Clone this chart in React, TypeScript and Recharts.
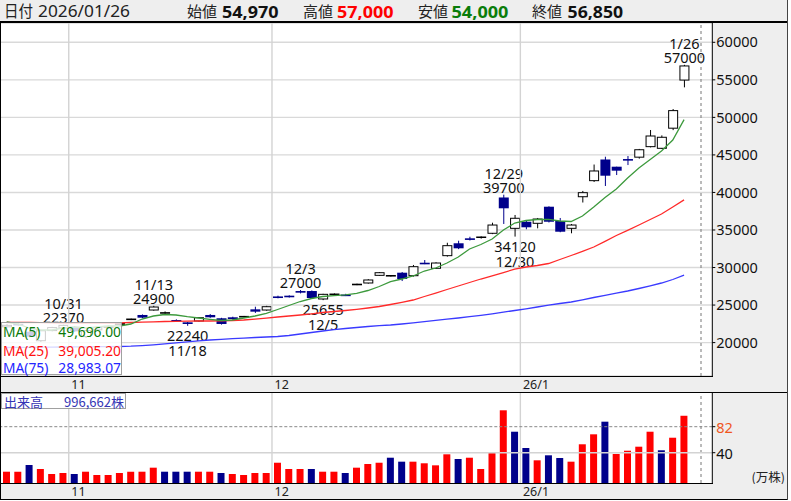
import React from 'react';
import { ComposedChart, Bar, Line, XAxis, YAxis, CartesianGrid, ReferenceLine, Cell } from 'recharts';

const dates = ['10/24','10/27','10/28','10/29','10/30','10/31','11/4','11/5','11/6','11/7','11/10','11/11','11/12','11/13','11/14','11/17','11/18','11/19','11/20','11/21','11/25','11/26','11/27','11/28','12/1','12/2','12/3','12/4','12/5','12/8','12/9','12/10','12/11','12/12','12/15','12/16','12/17','12/18','12/19','12/22','12/23','12/24','12/25','12/26','12/29','12/30','1/5','1/6','1/7','1/8','1/9','1/13','1/14','1/15','1/16','1/19','1/20','1/21','1/22','1/23','1/26'];

const opens = [22100,22500,21450,20250,21600,21950,22100,20800,21700,22000,
  22400,23100,23680,24340,23950,23010,22700,22880,23680,23240,
  23370,23450,24430,24340,26150,26250,26870,26870,25810,26430,
  26400,27740,27940,28960,28900,29310,28910,30640,29900,31580,
  33230,33890,34030,34560,39330,35220,36100,35890,38100,36200,
  35220,39430,41570,44390,43430,44450,44700,46100,45880,48560,54970];
const highs = [22450,22600,21500,21700,22100,22370,22200,21700,22100,22250,
  22650,23200,23750,24900,24150,23100,22750,23400,23800,23300,
  23450,23550,24780,24900,26250,26300,27000,26950,26500,26550,
  26500,27850,28450,29400,29000,29400,30340,31000,30700,33300,
  33570,34100,34150,35970,39700,37000,36200,36600,38150,36600,
  35800,40200,43720,44760,43430,44850,45800,48320,47600,51110,57000];
const lows = [22000,22250,20700,20100,21500,21800,21400,20600,21600,21900,
  22300,23000,23250,24250,23800,22800,22240,22800,23300,22400,
  23050,23350,23950,24250,25900,26000,26550,25900,25655,26330,
  26200,27650,27850,28900,28800,28200,28800,30450,29800,31450,
  32450,33600,33850,34450,35800,34120,35100,35220,36000,34700,
  34560,38660,41400,40860,42320,43650,44500,46000,45800,48300,54000];
const closes = [22300,22400,20790,21580,22000,22300,21500,21600,22000,22150,
  22550,23100,23320,24740,23950,22880,22480,23320,23370,22480,
  23140,23450,24120,24780,26000,26100,26650,25940,26430,26430,
  26320,27740,28340,29310,28900,28470,30110,30560,30600,32910,
  32560,33760,34030,35660,37890,36560,35360,36460,36100,34770,
  35660,39970,42860,42230,42900,44300,45690,47520,47350,50900,56850];

const ma5 = [22744,22477,21944,21678,21678,21944,22078,21944,22078,22211,
  22211,22477,23143,23543,23743,23676,23450,23276,23103,22943,
  23010,23276,23543,23902,24409,24942,25474,25874,26140,26247,
  26367,26566,26939,27472,28111,28471,28871,29537,29936,30602,
  31402,32467,33067,33800,34998,35930,36263,36397,36423,36197,
  36130,36863,38062,39327,40459,41924,43256,44388,45520,46985,49696];
const ma25 = [22677,22677,22677,22650,22637,22610,22610,22610,22610,22610,
  22637,22677,22717,22770,22810,22837,22850,22877,22877,22903,
  22943,23010,23117,23250,23410,23543,23676,23836,24009,24142,
  24275,24435,24608,24808,25075,25368,25674,26140,26606,27073,
  27539,28005,28471,28897,29337,29777,30070,30269,30536,31069,
  31601,32161,32734,33493,34266,34958,35664,36397,37129,38062,39005.2];
const ma75 = [19347,19360,19374,19387,19400,19414,19427,19440,19454,19467,
  19480,19520,19600,19707,19840,19973,20106,20239,20346,20439,
  20519,20599,20679,20746,20812,20945,21145,21345,21545,21718,
  21878,22011,22144,22251,22344,22477,22637,22797,22957,23117,
  23276,23450,23636,23836,24049,24276,24502,24742,24981,25208,
  25408,25701,26007,26300,26580,26873,27206,27565,27938,28405,28983.07];

// volume in 万株
const volumes = [9.3,9.3,20.1,13.7,5.6,7.2,5.6,9.3,4.0,4.0,
  7.2,9.3,9.3,15.8,9.3,9.3,9.3,9.3,9.3,7.2,
  5.6,4.0,7.2,7.2,23.8,13.7,13.7,13.7,9.3,9.3,
  7.2,15.8,21.7,23.8,31.9,25.5,25.5,22.9,19.6,37.4,
  29.8,31.9,13.7,39.5,108.5,73.9,47.6,27.7,35.8,31.4,
  25.5,53.6,69.7,90.1,37.9,43.2,49.7,73.9,43.9,64.2,99.67];
const volumeUp = [1,1,0,1,1,1,0,1,1,1,
  1,1,1,1,0,0,0,1,1,0,
  1,1,1,1,1,1,1,0,1,1,
  0,1,1,1,0,0,1,1,1,1,
  0,1,1,1,1,0,0,1,0,0,
  1,1,1,0,1,1,1,1,0,1,1];
const lastVolumeShares = 996662;

const priceTicks = [20000,25000,30000,35000,40000,45000,50000,55000,60000];
const volumeTicks = [40, 82];
const monthStarts = [6, 24, 46];
const monthLabels = ['11', '12', '26/1'];
const highMarkIdx = [5, 13, 26, 44, 60];
const lowMarkIdx = [16, 28, 45];
const emptySlots = 2;

const PRICE_MIN = 15551;
const PRICE_MAX = 62571;
const VOL_MIN = -8.95;
const VOL_MAX = 136.44;

const NAVY = '#00008b';
const FONT = '"Noto Sans", "Noto Sans CJK JP", sans-serif';
const JP = '"Noto Sans CJK JP", "Noto Sans", sans-serif';
const BAND_HALF = 5.64;

const data = [...dates.map((d, i) => ({
  i,
  date: d,
  o: opens[i], h: highs[i], l: lows[i], c: closes[i],
  range: [lows[i], highs[i]],
  ma5: ma5[i], ma25: ma25[i], ma75: ma75[i],
  vol: [VOL_MIN, volumes[i]],
  up: volumeUp[i],
})), ...Array.from({ length: emptySlots }, (_, k) => ({ i: dates.length + k }))];

function Candle(props: any) {
  const { x, y, width, height, payload } = props;
  if (!payload || payload.h == null || !isFinite(y) || !isFinite(height)) return null;
  const top = Math.min(y, y + height);
  const bottom = Math.max(y, y + height);
  const span = payload.h - payload.l;
  const yOf = (v: number) => (span > 0 ? top + ((payload.h - v) / span) * (bottom - top) : top);
  const cx = x + width / 2;
  const yo = yOf(payload.o);
  const yc = yOf(payload.c);
  const doji = payload.o === payload.c;
  const down = payload.c < payload.o;
  const els: any[] = [];
  els.push(<line key="w" x1={cx} x2={cx} y1={top} y2={bottom} stroke={down ? NAVY : '#000'} strokeWidth={1} />);
  if (doji) {
    els.push(<line key="d" x1={x} x2={x + width} y1={yc} y2={yc} stroke="#000" strokeWidth={1.6} />);
  } else if (down) {
    els.push(<rect key="b" x={x} y={yo} width={width} height={Math.max(1.6, yc - yo)} fill={NAVY} />);
  } else {
    els.push(<rect key="b" x={x + 0.5} y={yc} width={width - 1} height={Math.max(1, yo - yc)} fill="#fff" stroke="#000" strokeWidth={1} />);
  }
  const idx = payload.i;
  const tStyle = { fontSize: 14.5, fill: '#111', fontFamily: FONT };
  if (highMarkIdx.indexOf(idx) >= 0) {
    els.push(<text key="hd" x={cx} y={top - 22} textAnchor="middle" dominantBaseline="central" {...tStyle}>{payload.date}</text>);
    els.push(<text key="hp" x={cx} y={top - 7.7} textAnchor="middle" dominantBaseline="central" {...tStyle}>{String(payload.h)}</text>);
  }
  if (lowMarkIdx.indexOf(idx) >= 0) {
    els.push(<text key="lp" x={cx} y={bottom + 9} textAnchor="middle" dominantBaseline="central" {...tStyle}>{String(payload.l)}</text>);
    els.push(<text key="ld" x={cx} y={bottom + 24} textAnchor="middle" dominantBaseline="central" {...tStyle}>{payload.date}</text>);
  }
  return <g>{els}</g>;
}

function MonthTick(props: any) {
  const { x, y, payload } = props;
  const k = monthStarts.indexOf(payload.value);
  if (k < 0) return null;
  return (
    <text x={x - BAND_HALF + 2.6} y={y + 8.3} dominantBaseline="central" fontSize={12.5} fill="#222" fontFamily={FONT}>
      {monthLabels[k]}
    </text>
  );
}

function VolTick(props: any) {
  const { x, y, payload } = props;
  return (
    <text x={x} y={y} dominantBaseline="central" textAnchor="start" fontSize={14.5} fontFamily={FONT}
      fill={payload.value === 82 ? '#f0561e' : '#111'}>
      {payload.value}
    </text>
  );
}

const fmt2 = (v: number) => v.toLocaleString('en-US', { minimumFractionDigits: 2, maximumFractionDigits: 2 });
const fmt0 = (v: number) => v.toLocaleString('en-US');

export default function App() {
  const last = dates.length - 1;
  const hdr = [
    { label: '始値', lx: 187, value: fmt0(opens[last]), vx: 222, vw: 56.5, color: '#111' },
    { label: '高値', lx: 303, value: fmt0(highs[last]), vx: 337, vw: 56.5, color: '#ff0000' },
    { label: '安値', lx: 418, value: fmt0(lows[last]), vx: 451.5, vw: 57, color: '#0a7d0a' },
    { label: '終値', lx: 532, value: fmt0(closes[last]), vx: 567.6, vw: 55.5, color: '#111' },
  ];
  const legendRows = [
    { name: 'MA(5)', value: fmt2(ma5[last]), color: '#0a7a0a', cy: 9.7 },
    { name: 'MA(25)', value: fmt2(ma25[last]), color: '#ff1010', cy: 28.5 },
    { name: 'MA(75)', value: fmt2(ma75[last]), color: '#2525ff', cy: 45.5 },
  ];
  return (
    <div style={{ position: 'relative', width: 791, height: 501, background: '#fff', overflow: 'hidden', fontFamily: FONT }}>
      <style>{'body{margin:0}'}</style>
      {/* gray regions */}
      <div style={{ position: 'absolute', left: 712, top: 22, width: 76, height: 478, background: '#eeeeee' }} />
      <div style={{ position: 'absolute', left: 0, top: 376, width: 788, height: 17, background: '#eeeeee' }} />
      <div style={{ position: 'absolute', left: 0, top: 483, width: 788, height: 16.5, background: '#eeeeee' }} />

      {/* header */}
      <svg width={788} height={23} style={{ position: 'absolute', left: 0, top: 0 }}>
        <rect x={0} y={0} width={788} height={23} fill="#eeeeee" />
        <text x={4} y={17} fontSize={16} fill="#222" fontFamily={JP} textLength={29} lengthAdjust="spacingAndGlyphs">日付</text>
        <text x={38} y={17} fontSize={16} fill="#222" fontFamily={FONT} textLength={92} lengthAdjust="spacingAndGlyphs">{'2026/' + '01/26'}</text>
        {hdr.map((h) => (
          <g key={h.label}>
            <text x={h.lx} y={17} fontSize={15} fill="#222" fontFamily={JP} textLength={30} lengthAdjust="spacingAndGlyphs">{h.label}</text>
            <text x={h.vx} y={17.5} fontSize={16.5} fontWeight="bold" fill={h.color} fontFamily={FONT} textLength={h.vw} lengthAdjust="spacingAndGlyphs">{h.value}</text>
          </g>
        ))}
      </svg>

      {/* price chart */}
      <div style={{ position: 'absolute', left: 1, top: 23 }}>
        <ComposedChart width={787} height={370} data={data} margin={{ top: 0, right: 0, bottom: 0, left: 0 }} barGap={0}>
          <CartesianGrid horizontal vertical={false} stroke="#d9d9d9" strokeWidth={1.4} />
          <XAxis dataKey="i" type="category" height={17} ticks={monthStarts} interval={0} axisLine={false}
            tickLine={false} tickSize={0} tickMargin={0} tick={<MonthTick />} />
          <YAxis orientation="right" type="number" width={75.7} domain={[PRICE_MIN, PRICE_MAX]} allowDataOverflow
            ticks={priceTicks} interval={0} axisLine={{ stroke: '#000' }} tickLine={{ stroke: '#000' }} tickSize={3} tickMargin={1}
            tick={{ fontSize: 14.5, fill: '#111', fontFamily: FONT }} />
          {monthStarts.map((m) => (
            <ReferenceLine key={m} x={m} position="start" stroke="#d3d3d3" strokeWidth={1.4} />
          ))}
          <ReferenceLine x={dates.length + 1} position="start" stroke="#777" strokeDasharray="3 3" />
          <Line dataKey="ma75" stroke="#3a3aff" strokeWidth={1.3} dot={false} activeDot={false} isAnimationActive={false} />
          <Line dataKey="ma25" stroke="#ff2a2a" strokeWidth={1.3} dot={false} activeDot={false} isAnimationActive={false} />
          <Line dataKey="ma5" stroke="#3d9a3d" strokeWidth={1.3} dot={false} activeDot={false} isAnimationActive={false} />
          <Bar dataKey="range" barSize={10} shape={(p: any) => <Candle {...p} />} isAnimationActive={false} />
        </ComposedChart>
      </div>

      {/* volume chart */}
      <div style={{ position: 'absolute', left: 1, top: 393 }}>
        <ComposedChart width={787} height={106} data={data} margin={{ top: 0, right: 0, bottom: 0, left: 0 }}>
          <XAxis dataKey="i" type="category" height={16} ticks={monthStarts} interval={0} axisLine={false}
            tickLine={false} tickSize={0} tickMargin={0} tick={<MonthTick />} />
          <YAxis orientation="right" type="number" width={75.7} domain={[VOL_MIN, VOL_MAX]} allowDataOverflow
            ticks={volumeTicks} interval={0} axisLine={{ stroke: '#000' }} tickLine={{ stroke: '#000' }} tickSize={3} tickMargin={1}
            tick={<VolTick />} />
          {monthStarts.map((m) => (
            <ReferenceLine key={m} x={m} position="start" stroke="#d3d3d3" strokeWidth={1.4} />
          ))}
          <ReferenceLine x={dates.length + 1} position="start" stroke="#777" strokeDasharray="3 3" />
          <ReferenceLine y={volumeTicks[0]} stroke="#d3d3d3" strokeWidth={1.4} />
          <ReferenceLine y={volumeTicks[1]} stroke="#888" strokeDasharray="3 2" />
          <Bar dataKey="vol" barSize={7} isAnimationActive={false}>
            {data.map((d: any) => (
              <Cell key={d.i} fill={d.up ? '#ff0000' : NAVY} />
            ))}
          </Bar>
        </ComposedChart>
      </div>

      {/* borders */}
      <div style={{ position: 'absolute', left: 0, top: 21, width: 788, height: 2, background: '#000' }} />
      <div style={{ position: 'absolute', left: 0, top: 22, width: 1, height: 478, background: '#000' }} />
      <div style={{ position: 'absolute', left: 0, top: 375.5, width: 713, height: 1, background: '#000' }} />
      <div style={{ position: 'absolute', left: 0, top: 392.2, width: 788, height: 1, background: '#000' }} />
      <div style={{ position: 'absolute', left: 0, top: 483, width: 713, height: 1, background: '#000' }} />
      <div style={{ position: 'absolute', left: 0, top: 499, width: 788, height: 1, background: '#000' }} />
      <div style={{ position: 'absolute', left: 787, top: 0, width: 1, height: 500, background: '#444' }} />

      {/* MA legend */}
      <div style={{ position: 'absolute', left: 1, top: 321.5, width: 121, height: 53.5, background: 'rgba(255,255,255,0.8)', border: '1px solid #a0a0a0', boxSizing: 'border-box' }}>
        <svg width={121} height={54} style={{ position: 'absolute', left: -1, top: -1 }}>
          {legendRows.map((r) => (
            <g key={r.name}>
              <text x={2} y={r.cy} dominantBaseline="central" fontSize={13.8} fill={r.color} fontFamily={FONT}>{r.name}</text>
              <text x={120} y={r.cy} dominantBaseline="central" textAnchor="end" fontSize={13.8} fill={r.color} fontFamily={FONT}>{r.value}</text>
            </g>
          ))}
        </svg>
      </div>

      {/* volume label */}
      <div style={{ position: 'absolute', left: 1, top: 392.5, width: 125, height: 16.5, background: '#fff', border: '1px solid #a0a0a0', boxSizing: 'border-box' }}>
        <svg width={125} height={17} style={{ position: 'absolute', left: -1, top: -1 }}>
          <text x={3} y={8.5} dominantBaseline="central" fontSize={13} fill="#3535b5" fontFamily={JP}>出来高</text>
          <text x={123} y={8.5} dominantBaseline="central" textAnchor="end" fontSize={13} fill="#3535b5" fontFamily={JP}>{fmt0(lastVolumeShares) + '株'}</text>
        </svg>
      </div>

      {/* unit */}
      <svg width={80} height={16} style={{ position: 'absolute', left: 708, top: 468 }}>
        <text x={77} y={8} dominantBaseline="central" textAnchor="end" fontSize={12.5} fill="#222" fontFamily={JP}>(万株)</text>
      </svg>
    </div>
  );
}
